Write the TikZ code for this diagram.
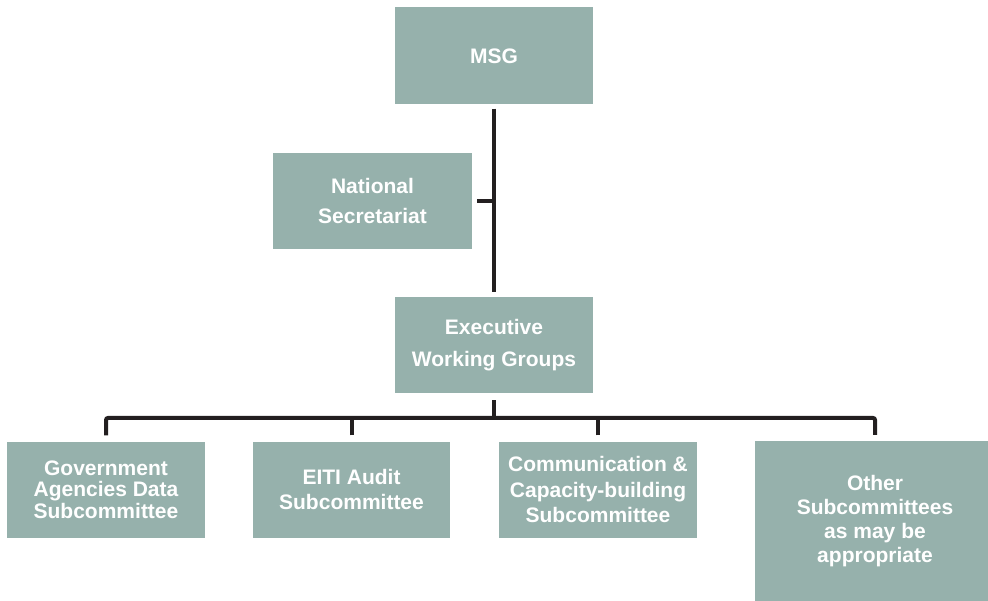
\documentclass[tikz,border=0pt]{standalone}
\usepackage{fontspec}
\setmainfont{Liberation Sans}
\definecolor{boxfill}{RGB}{150,177,172}
\definecolor{linecol}{RGB}{35,31,32}
\tikzset{
  orgbox/.style={fill=boxfill, draw=none, inner sep=0pt, text=white, align=center, anchor=center},
  conn/.style={draw=linecol, line width=4pt, rounded corners=2pt}
}
\newcommand{\fs}[1]{\fontsize{21}{#1}\selectfont\bfseries}
\begin{document}
\begin{tikzpicture}[x=1pt,y=-1pt]
\useasboundingbox (0,0) rectangle (988,601);
\node[orgbox, minimum width=198pt, minimum height=97pt, font=\fs{24}] (msg) at (494,56) {MSG};
\node[orgbox, minimum width=199pt, minimum height=96pt, font=\fs{30}] (ns) at (372.5,201) {National\\Secretariat};
\node[orgbox, minimum width=198pt, minimum height=96pt, font=\fs{32}] (ewg) at (494,345) {Executive\\Working Groups};
\node[orgbox, minimum width=198pt, minimum height=96pt, font=\fs{21.5}] (gov) at (106,489.5) {Government\\Agencies Data\\Subcommittee};
\node[orgbox, minimum width=197pt, minimum height=96pt, font=\fs{25}] (eiti) at (351.5,489.5) {EITI Audit\\Subcommittee};
\node[orgbox, minimum width=198pt, minimum height=96pt, font=\fs{25.5}] (comm) at (598,489.5) {Communication \&\\Capacity-building\\Subcommittee};
\node[orgbox, minimum width=240pt, minimum height=160pt, font=\fs{24}] (other) at (875,521) {Other\\Subcommittees\\as may be\\appropriate};
\coordinate (bus) at (494,418);
\draw[conn] ([yshift=-4pt]msg.south) -- ([yshift=5pt]ewg.north);
\draw[conn] ([xshift=5pt]ns.east) -- (ns.east -| msg.south);
\draw[conn] ([yshift=-7pt]ewg.south) -- (bus);
\draw[conn] ([yshift=6pt]gov.north) |- (bus) -| ([yshift=6pt]other.north);
\draw[conn] ([yshift=6pt]eiti.north) -- (eiti.north |- bus);
\draw[conn] ([yshift=6pt]comm.north) -- (comm.north |- bus);
\end{tikzpicture}
\end{document}
